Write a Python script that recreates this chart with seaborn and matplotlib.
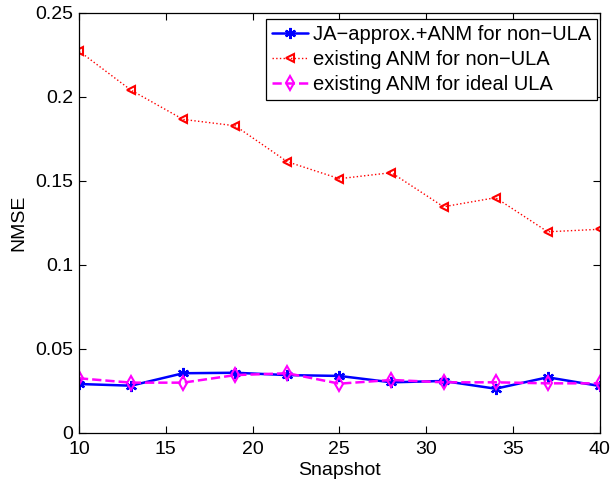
import matplotlib
matplotlib.use("Agg")
import matplotlib.pyplot as plt
import seaborn as sns
import pandas as pd

# Number of snapshots
snapshots = [10, 13, 16, 19, 22, 25, 28, 31, 34, 37, 40]

# NMSE per method
nmse_ja_approx = [0.0290, 0.0280, 0.0354, 0.0357, 0.0343, 0.0338, 0.0300, 0.0308, 0.0262, 0.0330, 0.0278]
nmse_anm_nonula = [0.2272, 0.2039, 0.1865, 0.1827, 0.1613, 0.1512, 0.1548, 0.1345, 0.1399, 0.1196, 0.1211]
nmse_anm_ideal = [0.0324, 0.0298, 0.0298, 0.0343, 0.0354, 0.0292, 0.0314, 0.0300, 0.0300, 0.0294, 0.0294]

labels = ["JA\u2212approx.+ANM for non\u2212ULA",
          "existing ANM for non\u2212ULA",
          "existing ANM for ideal ULA"]

sns.set_style("ticks")
plt.rcParams["font.family"] = ["Liberation Sans", "DejaVu Sans"]
plt.rcParams["text.color"] = "black"
plt.rcParams["axes.labelcolor"] = "black"

FS = 14

fig = plt.figure(figsize=(6.12, 4.8), dpi=100)
ax = fig.add_axes([0.129, 0.0985, 0.851, 0.875])

styles = [
    dict(color="#0000ff", linestyle="-", linewidth=1.8, marker=(6, 2, 0), markersize=8,
         markeredgewidth=1.6, markerfacecolor="#0000ff", markeredgecolor="#0000ff"),
    dict(color="#ff0000", linestyle=":", linewidth=1.0, marker="<", markersize=6,
         markeredgewidth=1.5, markerfacecolor="none", markeredgecolor="#ff0000"),
    dict(color="#ff00ff", linestyle="--", linewidth=1.8, marker="d", markersize=7,
         markeredgewidth=1.5, markerfacecolor="none", markeredgecolor="#ff00ff"),
]

for series, label, st in zip([nmse_ja_approx, nmse_anm_nonula, nmse_anm_ideal], labels, styles):
    df = pd.DataFrame({"Snapshot": snapshots, "NMSE": series})
    sns.lineplot(data=df, x="Snapshot", y="NMSE", ax=ax, label=label, **st)

ax.set_xlim(10, 40)
ax.set_ylim(0, 0.25)
ax.set_xticks([10, 15, 20, 25, 30, 35, 40])
ax.set_yticks([0, 0.05, 0.1, 0.15, 0.2, 0.25])
ax.set_yticklabels(["0", "0.05", "0.1", "0.15", "0.2", "0.25"])
ax.tick_params(direction="in", length=5, width=0.8, top=True, right=True,
               labelsize=FS, colors="black")
ax.tick_params(axis="x", pad=6)
ax.tick_params(axis="y", pad=4)
for sp in ax.spines.values():
    sp.set_visible(True)
    sp.set_linewidth(0.9)
    sp.set_color("black")

ax.set_xlabel("Snapshot", fontsize=FS, labelpad=3)
ax.set_ylabel("NMSE", fontsize=FS, labelpad=6)

leg = ax.legend(loc="upper right", bbox_to_anchor=(0.9955, 0.985), fontsize=14.5,
                frameon=True, fancybox=False, edgecolor="black", framealpha=1,
                handlelength=1.8, handletextpad=0.25, borderpad=0.3, labelspacing=0.3,
                borderaxespad=0, numpoints=1)
leg.get_frame().set_linewidth(0.9)

fig.savefig("out.png", dpi=100)
